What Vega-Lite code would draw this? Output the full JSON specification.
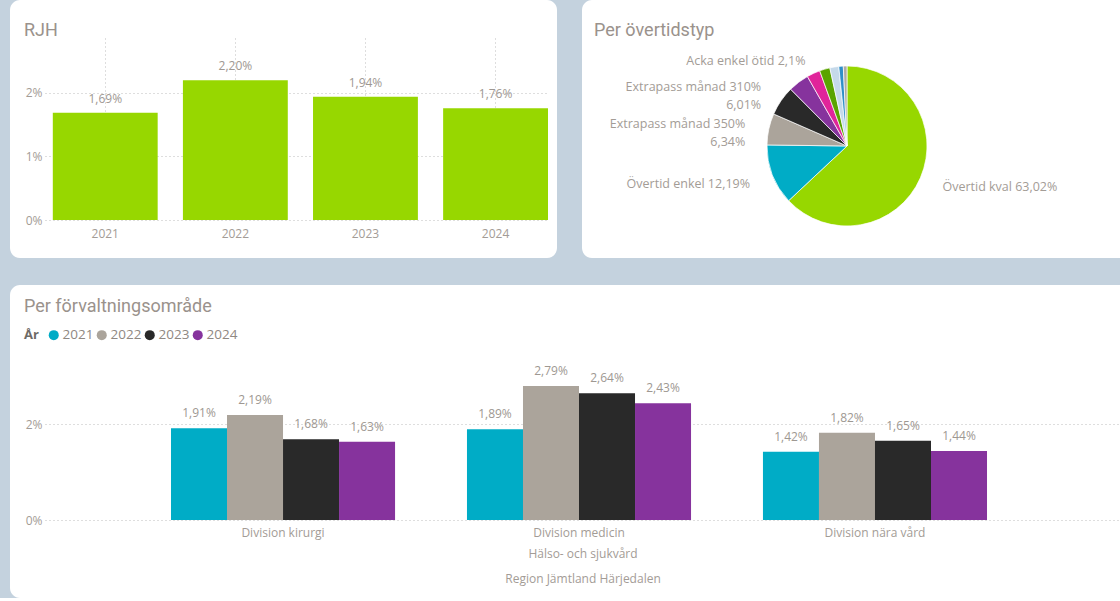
{
  "$schema": "https://vega.github.io/schema/vega-lite/v6.json",
  "background": "#c4d2de",
  "padding": {"left": 10, "top": 0, "right": 0, "bottom": 0},
  "spacing": 27,
  "resolve": {"scale": {"color": "independent"}},
  "config": {
    "locale": {"number": {"decimal": ",", "thousands": "\u00a0", "grouping": [3], "currency": ["", " kr"]}},
    "view": {"fill": "white", "stroke": null, "cornerRadius": 10},
    "font": "Open Sans",
    "axis": {
      "labelFont": "Open Sans", "labelFontSize": 12, "labelColor": "#a39c96",
      "domain": false, "ticks": false,
      "gridColor": "#bdbdbd", "gridDash": [1, 3], "gridWidth": 1
    },
    "title": {
      "font": "Roboto", "fontSize": 18, "fontWeight": "normal", "color": "#9a928c",
      "anchor": "start", "frame": "group", "baseline": "top", "offset": 0, "dx": 14, "dy": 44
    },
    "legend": {
      "labelFont": "Open Sans", "labelFontSize": 13.5, "labelColor": "#8f8882",
      "titleFont": "Open Sans", "titleFontSize": 13, "titleFontWeight": "bold", "titleColor": "#6e6a66",
      "symbolType": "circle", "symbolSize": 100, "symbolStrokeWidth": 0,
      "direction": "horizontal", "titleOrient": "left", "columnPadding": 1, "labelOffset": 2, "titlePadding": 8
    }
  },
  "vconcat": [
    {
      "hconcat": [
        {
          "width": 547,
          "height": 258,
          "title": {"text": "RJH"},
          "data": {"values": [
            {"ar": "2021", "andel": 0.0169},
            {"ar": "2022", "andel": 0.0220},
            {"ar": "2023", "andel": 0.0194},
            {"ar": "2024", "andel": 0.0176}
          ]},
          "encoding": {
            "x": {
              "field": "ar", "type": "ordinal",
              "scale": {"range": [35, 538], "paddingInner": 0.194, "paddingOuter": 0.03, "align": 1},
              "axis": {"title": null, "labelAngle": 0, "offset": -38, "labelPadding": 8, "grid": true}
            },
            "y": {
              "field": "andel", "type": "quantitative",
              "scale": {"domain": [0, 0.02598], "range": [220, 55], "nice": false, "zero": true},
              "axis": {"title": null, "values": [0, 0.01, 0.02], "format": ".0%", "offset": -35, "labelPadding": 3, "grid": true}
            }
          },
          "layer": [
            {"mark": {"type": "bar", "color": "#97d700"}},
            {
              "mark": {"type": "text", "baseline": "alphabetic", "dy": -10, "fontSize": 12, "color": "#9e9892"},
              "encoding": {"text": {"field": "andel", "type": "quantitative", "format": ".2%"}}
            }
          ]
        },
        {
          "width": 548,
          "height": 258,
          "view": {"fill": "white", "stroke": null, "cornerRadius": 10},
          "title": {"text": "Per övertidstyp", "dx": 12},
          "data": {"values": [
            {"typ": "Övertid kval", "andel": 63.02, "ordning": 1, "etikett": "Övertid kval 63,02%"},
            {"typ": "Övertid enkel", "andel": 12.19, "ordning": 2, "etikett": "Övertid enkel 12,19%"},
            {"typ": "Extrapass månad 350%", "andel": 6.34, "ordning": 3, "etikett": "Extrapass månad 350%\n6,34%"},
            {"typ": "Extrapass månad 310%", "andel": 6.01, "ordning": 4, "etikett": "Extrapass månad 310%\n6,01%"},
            {"typ": "Övrig typ 1", "andel": 4.2, "ordning": 5, "etikett": ""},
            {"typ": "Övrig typ 2", "andel": 2.7, "ordning": 6, "etikett": ""},
            {"typ": "Acka enkel ötid", "andel": 2.1, "ordning": 7, "etikett": "Acka enkel ötid 2,1%"},
            {"typ": "Övrig typ 3", "andel": 1.8, "ordning": 8, "etikett": ""},
            {"typ": "Övrig typ 4", "andel": 0.9, "ordning": 9, "etikett": ""},
            {"typ": "Övrig typ 5", "andel": 0.74, "ordning": 10, "etikett": ""}
          ]},
          "layer": [
            {
              "mark": {"type": "point", "opacity": 0},
              "encoding": {
                "x": {"field": "andel", "type": "quantitative", "axis": null},
                "y": {"field": "andel", "type": "quantitative", "axis": null}
              }
            },
            {
              "mark": {"type": "arc", "outerRadius": 80, "stroke": "white", "strokeWidth": 0.7, "xOffset": -9, "yOffset": 17},
              "encoding": {
                "theta": {"field": "andel", "type": "quantitative", "stack": true},
                "order": {"field": "ordning", "type": "quantitative"},
                "color": {
                  "field": "typ", "type": "nominal", "legend": null,
                  "scale": {
                    "domain": ["Övertid kval", "Övertid enkel", "Extrapass månad 350%", "Extrapass månad 310%", "Övrig typ 1", "Övrig typ 2", "Acka enkel ötid", "Övrig typ 3", "Övrig typ 4", "Övrig typ 5"],
                    "range": ["#97d700", "#00acc6", "#aba49b", "#292929", "#86339d", "#e0249a", "#5aa400", "#c5d9ea", "#2f8fc8", "#b0aaa5"]
                  }
                }
              }
            },
            {
              "mark": {"type": "text", "radius": 104, "align": "left", "baseline": "middle", "lineBreak": "\n", "lineHeight": 18, "fontSize": 12.5, "color": "#a39c96", "xOffset": -9, "yOffset": 17},
              "encoding": {
                "theta": {"field": "andel", "type": "quantitative", "stack": true},
                "order": {"field": "ordning", "type": "quantitative"},
                "text": {"condition": {"test": "datum.typ === 'Övertid kval'", "field": "etikett"}, "value": ""}
              }
            },
            {
              "mark": {"type": "text", "radius": 104, "align": "right", "baseline": "middle", "lineBreak": "\n", "lineHeight": 18, "fontSize": 12.5, "color": "#a39c96", "xOffset": -9, "yOffset": 17},
              "encoding": {
                "theta": {"field": "andel", "type": "quantitative", "stack": true},
                "order": {"field": "ordning", "type": "quantitative"},
                "text": {"condition": {"test": "datum.typ !== 'Övertid kval' && datum.typ !== 'Acka enkel ötid'", "field": "etikett"}, "value": ""}
              }
            },
            {
              "mark": {"type": "text", "radius": 88, "dx": -17, "align": "right", "baseline": "middle", "fontSize": 12.5, "color": "#a39c96", "xOffset": -9, "yOffset": 17},
              "encoding": {
                "theta": {"field": "andel", "type": "quantitative", "stack": true},
                "order": {"field": "ordning", "type": "quantitative"},
                "text": {"condition": {"test": "datum.typ === 'Acka enkel ötid'", "field": "etikett"}, "value": ""}
              }
            }
          ]
        }
      ],
      "spacing": 25
    },
    {
      "width": 1120,
      "height": 313,
      "title": {"text": "Per förvaltningsområde", "dy": 35},
      "data": {"values": [
        {"omrade": "Division kirurgi", "ar": "2021", "andel": 0.0191},
        {"omrade": "Division kirurgi", "ar": "2022", "andel": 0.0219},
        {"omrade": "Division kirurgi", "ar": "2023", "andel": 0.0168},
        {"omrade": "Division kirurgi", "ar": "2024", "andel": 0.0163},
        {"omrade": "Division medicin", "ar": "2021", "andel": 0.0189},
        {"omrade": "Division medicin", "ar": "2022", "andel": 0.0279},
        {"omrade": "Division medicin", "ar": "2023", "andel": 0.0264},
        {"omrade": "Division medicin", "ar": "2024", "andel": 0.0243},
        {"omrade": "Division nära vård", "ar": "2021", "andel": 0.0142},
        {"omrade": "Division nära vård", "ar": "2022", "andel": 0.0182},
        {"omrade": "Division nära vård", "ar": "2023", "andel": 0.0165},
        {"omrade": "Division nära vård", "ar": "2024", "andel": 0.0144}
      ]},
      "encoding": {
        "x": {
          "field": "omrade", "type": "nominal",
          "scale": {"range": [35, 1110], "paddingInner": 0.243, "paddingOuter": 0.4375, "align": 0.4865},
          "axis": {
            "title": ["Hälso- och sjukvård", "Region Jämtland Härjedalen"],
            "titleFont": "Open Sans", "titleFontSize": 12, "titleFontWeight": "normal", "titleColor": "#a39c96",
            "titleLineHeight": 25, "titlePadding": 10,
            "labelAngle": 0, "offset": -78, "labelPadding": 7, "grid": false
          }
        },
        "xOffset": {"field": "ar", "type": "nominal"},
        "y": {
          "field": "andel", "type": "quantitative",
          "scale": {"domain": [0, 0.03125], "range": [235, 85], "nice": false, "zero": true},
          "axis": {"title": null, "values": [0, 0.02], "format": ".0%", "offset": -35, "labelPadding": 3, "grid": true}
        }
      },
      "layer": [
        {
          "mark": {"type": "bar"},
          "encoding": {
            "color": {
              "field": "ar", "type": "nominal",
              "scale": {"domain": ["2021", "2022", "2023", "2024"], "range": ["#00acc6", "#aba49b", "#292929", "#86339d"]},
              "legend": {"title": "År", "orient": "none", "legendX": 14, "legendY": 43}
            }
          }
        },
        {
          "mark": {"type": "text", "baseline": "alphabetic", "dy": -11, "fontSize": 12, "color": "#9e9892"},
          "encoding": {"text": {"field": "andel", "type": "quantitative", "format": ".2%"}}
        }
      ]
    }
  ]
}
